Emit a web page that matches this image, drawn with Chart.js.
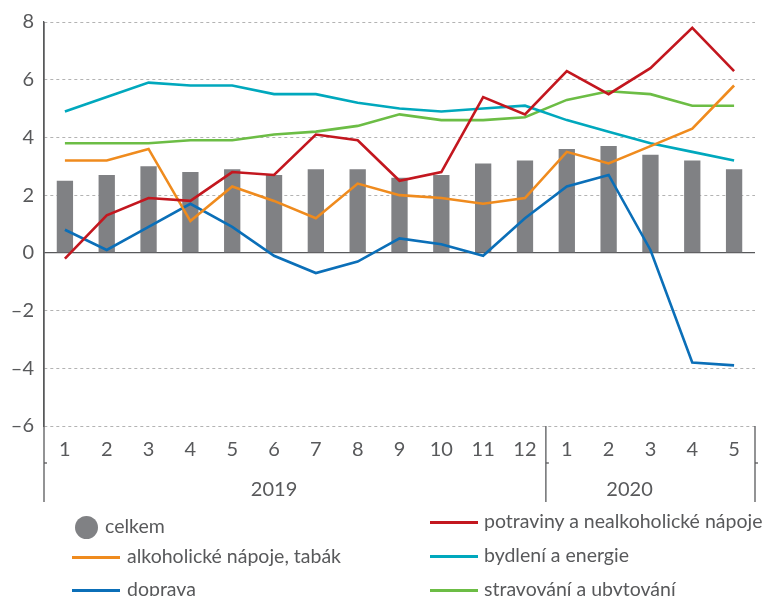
<!DOCTYPE html>
<html>
<head>
<meta charset="utf-8">
<script src="https://cdn.jsdelivr.net/npm/chart.js@4"></script>
<style>
  html, body { margin: 0; padding: 0; background: #fff; }
  #wrap { position: relative; width: 773px; height: 596px; overflow: hidden; }
  canvas { position: absolute; left: 0; top: 0; }
  .lg { position: absolute; font-family: Lato, "Open Sans", sans-serif; font-size: 19.5px; color: #58595b; white-space: nowrap; line-height: 22px; }
  .sym { position: absolute; }
</style>
</head>
<body>
<div id="wrap">
  <canvas id="c" width="773" height="596"></canvas>
  <div id="legend"></div>
</div>
<script>
// ---- data ----
const months = ['1','2','3','4','5','6','7','8','9','10','11','12','1','2','3','4','5'];
const years = ['2019', '2020'];
const yearStarts = [0, 12];
const yearEnds = [11, 16];
const yTicks = [-6, -4, -2, 0, 2, 4, 6, 8];

const celkem      = [2.5, 2.7, 3.0, 2.8, 2.9, 2.7, 2.9, 2.9, 2.6, 2.7, 3.1, 3.2, 3.6, 3.7, 3.4, 3.2, 2.9];
const potraviny   = [-0.2, 1.3, 1.9, 1.8, 2.8, 2.7, 4.1, 3.9, 2.5, 2.8, 5.4, 4.8, 6.3, 5.5, 6.4, 7.8, 6.3];
const alkohol     = [3.2, 3.2, 3.6, 1.1, 2.3, 1.8, 1.2, 2.4, 2.0, 1.9, 1.7, 1.9, 3.5, 3.1, 3.7, 4.3, 5.8];
const bydleni     = [4.9, 5.4, 5.9, 5.8, 5.8, 5.5, 5.5, 5.2, 5.0, 4.9, 5.0, 5.1, 4.6, 4.2, 3.8, 3.5, 3.2];
const doprava     = [0.8, 0.1, 0.9, 1.7, 0.9, -0.1, -0.7, -0.3, 0.5, 0.3, -0.1, 1.2, 2.3, 2.7, 0.1, -3.8, -3.9];
const stravovani  = [3.8, 3.8, 3.8, 3.9, 3.9, 4.1, 4.2, 4.4, 4.8, 4.6, 4.6, 4.7, 5.3, 5.6, 5.5, 5.1, 5.1];

const names = {
  celkem: 'celkem',
  potraviny: 'potraviny a nealkoholické nápoje',
  alkohol: 'alkoholické nápoje, tabák',
  bydleni: 'bydlení a energie',
  doprava: 'doprava',
  stravovani: 'stravování a ubytování'
};
const colors = {
  celkem: '#808184',
  potraviny: '#c3171f',
  alkohol: '#ef8b1e',
  bydleni: '#00a8bd',
  doprava: '#0b6fb8',
  stravovani: '#6cbd45'
};

const FONT = 'Lato, "Open Sans", sans-serif';
const TEXT = '#58595b';

function lineDs(key, data) {
  return {
    type: 'line', label: names[key], data: data,
    borderColor: colors[key], backgroundColor: colors[key],
    borderWidth: 2.6, pointRadius: 0, tension: 0, order: 1
  };
}

const extraAxis = {
  id: 'extraAxis',
  afterDraw(chart) {
    const ctx = chart.ctx;
    const x = chart.scales.x;
    const area = chart.chartArea;
    const bottom = area.bottom + 76;
    ctx.save();
    ctx.strokeStyle = '#58595b';
    ctx.lineWidth = 1.3;
    ctx.beginPath();
    ctx.moveTo(area.left, area.top);
    ctx.lineTo(area.left, bottom);
    ctx.stroke();
    const step = (x.right - x.left) / months.length;
    const seps = [x.left + 12 * step, x.right];
    seps.forEach(sx => {
      ctx.beginPath();
      ctx.moveTo(sx, area.bottom);
      ctx.lineTo(sx, bottom);
      ctx.stroke();
    });
    [area.left, x.left + 12 * step, x.right].forEach(sx => {
      ctx.beginPath();
      ctx.moveTo(sx, area.bottom + 37);
      ctx.lineTo(sx + 3, area.bottom + 37);
      ctx.stroke();
    });
    ctx.fillStyle = TEXT;
    ctx.font = '20px ' + FONT;
    ctx.textAlign = 'center';
    ctx.textBaseline = 'middle';
    years.forEach((yl, i) => {
      const mid = (yearStarts[i] + yearEnds[i]) / 2 - 0.5;
      const px = x.left + (mid + 0.5) * step;
      ctx.fillText(yl, px, area.bottom + 64);
    });
    ctx.restore();
  }
};

const chart = new Chart(document.getElementById('c'), {
  type: 'bar',
  data: {
    labels: months,
    datasets: [
      lineDs('potraviny', potraviny),
      lineDs('alkohol', alkohol),
      lineDs('bydleni', bydleni),
      lineDs('doprava', doprava),
      lineDs('stravovani', stravovani),
      {
        type: 'bar', label: names.celkem, data: celkem,
        backgroundColor: colors.celkem, borderWidth: 0,
        barPercentage: 0.39, categoryPercentage: 1.0, order: 10
      }
    ]
  },
  options: {
    responsive: false,
    animation: false,
    devicePixelRatio: 1,
    layout: { padding: { top: 18, right: 18, bottom: 92, left: 0 } },
    plugins: { legend: { display: false }, tooltip: { enabled: false } },
    scales: {
      x: {
        offset: true,
        grid: { display: false, drawTicks: false },
        border: { display: false },
        ticks: { color: TEXT, font: { family: FONT, size: 20 }, padding: 12, maxRotation: 0, autoSkip: false },
        afterFit: s => { s.height = 78; }
      },
      y: {
        min: -6, max: 8,
        afterBuildTicks: s => { s.ticks = yTicks.map(v => ({ value: v })); },
        grid: {
          drawTicks: false,
          color: c => (c.tick && c.tick.value === 0) ? '#58595b' : '#b3b3b3',
          lineWidth: c => (c.tick && c.tick.value === 0) ? 1.3 : 1
        },
        border: {
          display: true, color: '#58595b', width: 1.3,
          dash: c => (c.tick && c.tick.value === 0) ? [] : [3, 3]
        },
        ticks: {
          color: TEXT, font: { family: FONT, size: 20 }, padding: 10,
          callback: v => v < 0 ? '\u2013' + Math.abs(v) : String(v)
        },
        afterFit: s => { s.width = 44; }
      }
    }
  },
  plugins: [extraAxis]
});

// ---- HTML legend ----
const legend = document.getElementById('legend');
const items = [
  { key: 'celkem', kind: 'dot', x: 75, y: 527, tx: 105 },
  { key: 'alkohol', kind: 'line', x: 72, y: 557, tx: 127 },
  { key: 'doprava', kind: 'line', x: 72, y: 590, tx: 127 },
  { key: 'potraviny', kind: 'line', x: 430, y: 522, tx: 484 },
  { key: 'bydleni', kind: 'line', x: 430, y: 556, tx: 484 },
  { key: 'stravovani', kind: 'line', x: 430, y: 590, tx: 484 }
];
items.forEach(it => {
  const s = document.createElement('div');
  s.className = 'sym';
  if (it.kind === 'dot') {
    s.style.cssText = `left:${it.x}px;top:${it.y - 11.5}px;width:23px;height:23px;border-radius:50%;background:${colors[it.key]};`;
  } else {
    s.style.cssText = `left:${it.x}px;top:${it.y - 1.5}px;width:48px;height:3px;background:${colors[it.key]};`;
  }
  legend.appendChild(s);
  const t = document.createElement('div');
  t.className = 'lg';
  t.style.left = it.tx + 'px';
  t.style.top = (it.y - 12) + 'px';
  t.textContent = names[it.key];
  legend.appendChild(t);
});
</script>
</body>
</html>
